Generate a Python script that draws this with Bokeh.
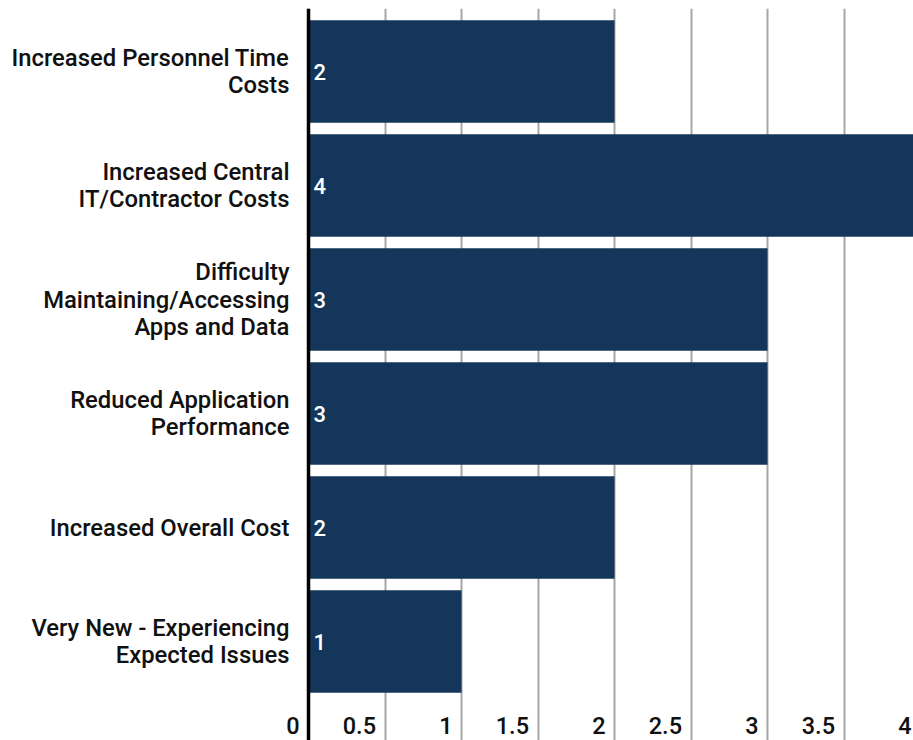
from bokeh.plotting import figure
from bokeh.models import Range1d, FixedTicker, ColumnDataSource, Span
from bokeh.core.properties import value
from bokeh.embed import file_html
from bokeh.resources import INLINE

categories = [
    "Increased Personnel Time\nCosts",
    "Increased Central\nIT/Contractor Costs",
    "Difficulty\nMaintaining/Accessing\nApps and Data",
    "Reduced Application\nPerformance",
    "Increased Overall Cost",
    "Very New - Experiencing\nExpected Issues",
]
counts = [2, 4, 3, 3, 2, 1]
tick_values = [0, 0.5, 1, 1.5, 2, 2.5, 3, 3.5, 4]
tick_labels = ["0", "0.5", "1", "1.5", "2", "2.5", "3", "3.5", "4"]

FONT = value("Roboto Medium")
BAR = "#14365a"

n = len(categories)
ypos = list(range(n))

p = figure(width=913, height=740, output_backend="svg", toolbar_location=None,
           x_range=Range1d(-2.013, 3.954), y_range=Range1d(5.868, -0.553),
           min_border=0, min_border_top=8, outline_line_color=None)
p.xaxis.visible = False
p.yaxis.visible = False
p.ygrid.visible = False
p.xgrid.ticker = FixedTicker(ticks=tick_values)
p.xgrid.grid_line_color = "#a6a6a6"
p.xgrid.grid_line_width = 2

src = ColumnDataSource(dict(y=ypos, v=counts, cat=categories,
                            lab=[str(c) for c in counts], zero=[0] * n))
p.hbar(y="y", left=0, right="v", height=0.9, source=src,
       fill_color=BAR, line_color=None)

p.add_layout(Span(location=0, dimension="height", line_color="black", line_width=3.5))

p.text(x="zero", y="y", text="lab", source=src, x_offset=5,
       text_align="left", text_baseline="middle", text_color="white",
       text_font=FONT, text_font_size="22px")

p.text(x="zero", y="y", text="cat", source=src, x_offset=-19,
       text_align="right", text_baseline="middle", text_color="#111111",
       text_font=FONT, text_font_size="23.8px",
       text_line_height=0.97)

tick_src = ColumnDataSource(dict(x=tick_values, t=tick_labels,
                                 y=[n - 0.263] * len(tick_values)))
p.text(x="x", y="y", text="t", source=tick_src, x_offset=-9,
       text_align="right", text_baseline="middle", text_color="#111111",
       text_font=FONT, text_font_size="23.5px")

open("out.html", "w").write(file_html(p, INLINE))
